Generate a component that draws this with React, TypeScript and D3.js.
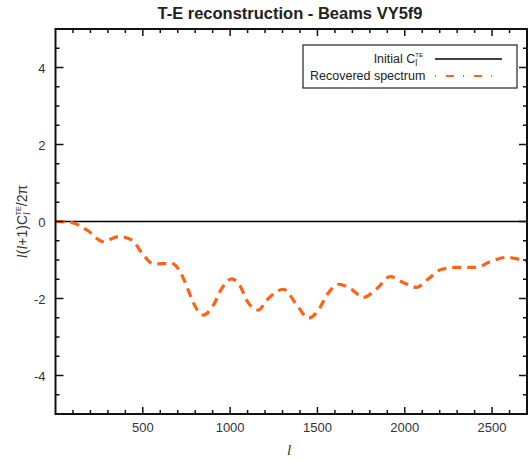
import React from "react";
import * as d3 from "d3";

const ells = [0, 93, 179, 274, 360, 437, 503, 560, 666, 713, 752, 790, 847, 904, 952, 1010, 1048, 1105, 1162, 1210, 1305, 1382, 1449, 1506, 1554, 1621, 1688, 1764, 1841, 1917, 1993, 2070, 2127, 2213, 2308, 2414, 2490, 2586, 2652, 2700];
const recovered = [0, -0.03, -0.22, -0.52, -0.39, -0.48, -0.87, -1.1, -1.09, -1.3, -1.69, -2.12, -2.43, -2.17, -1.74, -1.49, -1.61, -2.12, -2.3, -2.04, -1.76, -2.17, -2.51, -2.3, -1.91, -1.63, -1.74, -1.97, -1.74, -1.43, -1.59, -1.71, -1.52, -1.24, -1.19, -1.19, -1.04, -0.93, -0.98, -1.03];
const initialL = [0, 2700];
const initialV = [0, 0];
const xTickLabels = [500, 1000, 1500, 2000, 2500];
const yTickLabels = [-4, -2, 0, 2, 4];

const W = 531, H = 461;
const L = 55.5, R = 527, T = 29, B = 414;
const ORANGE = "#ff6218";
const FONT = "'Liberation Sans', Arial, Helvetica, sans-serif";

export default function App() {
  const x = d3.scaleLinear().domain([0, 2700]).range([L, R]);
  const y = d3.scaleLinear().domain([-5, 5]).range([B, T]);
  const line = d3.line<number>().x((_, i) => x(ells[i])).y((v) => y(v)).curve(d3.curveMonotoneX);
  const zero = d3.line<number>().x((_, i) => x(initialL[i])).y((v) => y(v));

  const xMinor = d3.range(100, 2700, 100).filter((v) => v % 500 !== 0);
  const yMinor = d3.range(-4.5, 5, 0.5).filter((v) => Math.abs(v % 2) > 1e-9);

  return (
    <svg width={W} height={H} style={{ position: "absolute", left: 0, top: 0, background: "#fff" }}>
      <rect x={0} y={0} width={W} height={H} fill="#fff" />
      <text x={290} y={19} textAnchor="middle" fontFamily={FONT} fontWeight="bold" fontSize={16.5} fill="#222">
        T-E reconstruction - Beams VY5f9
      </text>
      {/* data */}
      <path d={zero(initialV) || ""} stroke="#000" strokeWidth={1.4} fill="none" />
      <path d={line(recovered) || ""} stroke={ORANGE} strokeWidth={3.2} strokeDasharray="9,6" fill="none" />
      {/* ticks */}
      <g stroke="#111" strokeWidth={1.5}>
        {xTickLabels.map((v) => (
          <g key={"xM" + v}>
            <line x1={x(v)} x2={x(v)} y1={B} y2={B - 7} />
            <line x1={x(v)} x2={x(v)} y1={T} y2={T + 7} />
          </g>
        ))}
        {xMinor.map((v) => (
          <g key={"xm" + v}>
            <line x1={x(v)} x2={x(v)} y1={B} y2={B - 4} />
            <line x1={x(v)} x2={x(v)} y1={T} y2={T + 4} />
          </g>
        ))}
        {yTickLabels.map((v) => (
          <g key={"yM" + v}>
            <line x1={L} x2={L + 8} y1={y(v)} y2={y(v)} />
            <line x1={R} x2={R - 8} y1={y(v)} y2={y(v)} />
          </g>
        ))}
        {yMinor.map((v) => (
          <g key={"ym" + v}>
            <line x1={L} x2={L + 4} y1={y(v)} y2={y(v)} />
            <line x1={R} x2={R - 4} y1={y(v)} y2={y(v)} />
          </g>
        ))}
      </g>
      <rect x={L} y={T} width={R - L} height={B - T} fill="none" stroke="#111" strokeWidth={2} />
      {/* tick labels */}
      {xTickLabels.map((v) => (
        <text key={"xl" + v} x={x(v)} y={B + 18} textAnchor="middle" fontFamily={FONT} fontSize={13} fill="#333">
          {v}
        </text>
      ))}
      {yTickLabels.map((v) => (
        <text key={"yl" + v} x={L - 10} y={y(v) + 5} textAnchor="end" fontFamily={FONT} fontSize={13} fill="#333">
          {v}
        </text>
      ))}
      {/* axis titles */}
      <text x={289} y={455} textAnchor="middle" fontFamily="'Liberation Serif', serif" fontStyle="italic" fontSize={15} fill="#333">
        l
      </text>
      <text transform={`translate(27,${y(0)}) rotate(-90)`} textAnchor="middle" fontFamily={FONT} fontSize={14} fill="#333">
        <tspan fontFamily="'Liberation Serif', serif" fontStyle="italic">l</tspan>
        <tspan>(</tspan>
        <tspan fontFamily="'Liberation Serif', serif" fontStyle="italic">l</tspan>
        <tspan>+1)C</tspan>
        <tspan fontFamily="'Liberation Serif', serif" fontStyle="italic" fontSize={10} dy={3}>l</tspan>
        <tspan fontSize={7} dy={-9} dx={-3}>TE</tspan>
        <tspan dy={6}>/2π</tspan>
      </text>
      {/* legend */}
      <rect x={303} y={45} width={214} height={43} fill="#fff" stroke="#222" strokeWidth={1.2} />
      <text x={423} y={63} textAnchor="end" fontFamily={FONT} fontSize={12.5} fill="#222">
        <tspan>Initial C</tspan>
        <tspan fontSize={9} dy={3}>l</tspan>
        <tspan fontSize={6} dy={-9} dx={-2}>TE</tspan>
      </text>
      <line x1={435} x2={502} y1={59} y2={59} stroke="#000" strokeWidth={1.5} />
      <text x={310} y={80} fontFamily={FONT} fontSize={12.5} fill="#222">
        Recovered spectrum
      </text>
      <line x1={435} x2={502} y1={76} y2={76} stroke={ORANGE} strokeWidth={2} strokeDasharray="1,10,8,9" />
    </svg>
  );
}
